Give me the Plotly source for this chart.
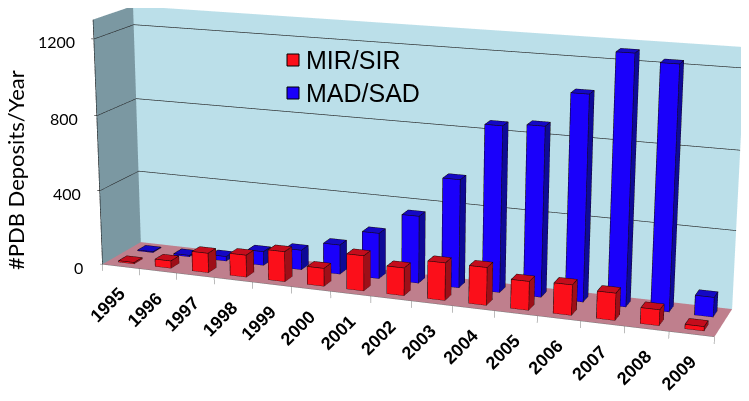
import numpy as np
import plotly.graph_objects as go

years = list(range(1995, 2010))
mir_sir = [8, 40, 105, 118, 160, 95, 185, 145, 195, 195, 148, 155, 138, 80, 22]
mad_sad = [5, 8, 25, 75, 106, 157, 242, 354, 565, 858, 874, 1050, 1265, 1228, 100]
z_ticks = [0, 400, 800, 1200]
z_top = 1300

# size of the chart box and camera, same unit (camera distance = 1)
box_x, box_y, box_z = 0.3145, 0.0424, 0.1265
view_dir = np.array([-0.341, 0.8998, -0.2645])
cam_right = np.array([0.9356, 0.3516, -0.0047])
cam_down = np.array([0.0927, -0.2584, -0.964])
center = np.array([0.1271, 0.0576, 0.0317])
half = np.array([0.25, 0.08, 0.15])
K = 19.52
cam_dist = 2.0
# the page body has an 8px margin, so the scene centre lands off the window centre
nudge = cam_right * (-7.5 / 1950) + cam_down * (-8.5 / 1950)

bar_w = 0.42

RED = ("#fb0f1a", "#c40d1c", "#9e0f18")
BLUE = ("#1a00fb", "#1408c4", "#0e0a96")


# plotly has a fixed fov, so the long lens of the original is put on the data
def persp(x, y, z):
    q = np.array([x, y, z], dtype=float).T - center
    w = 1 + q @ view_dir
    return (q.T / w) + nudge[:, None]


def sx(i):
    return np.asarray(i, dtype=float) * box_x / len(years)


def sy(v):
    return np.asarray(v, dtype=float) * box_y / 2


def sz(val):
    return np.asarray(val, dtype=float) * box_z / z_top


def bar_mesh(values, row, colors, name):
    xs, ys, zs, ii, jj, kk, fc = [], [], [], [], [], [], []
    for n, val in enumerate(values):
        x0, x1 = sx(n + 0.5 - bar_w / 2), sx(n + 0.5 + bar_w / 2)
        y0, y1 = sy(row + 0.5 - bar_w / 2), sy(row + 0.5 + bar_w / 2)
        top = sz(val)
        base = len(xs)
        xs += [x0, x1, x1, x0, x0, x1, x1, x0]
        ys += [y0, y0, y1, y1, y0, y0, y1, y1]
        zs += [0, 0, 0, 0, top, top, top, top]
        faces = [(0, 1, 5, 0), (0, 5, 4, 0), (4, 5, 6, 1), (4, 6, 7, 1),
                 (1, 2, 6, 2), (1, 6, 5, 2), (0, 3, 7, 2), (0, 7, 4, 2),
                 (3, 2, 6, 0), (3, 6, 7, 0)]
        for a, b, c, col in faces:
            ii.append(base + a)
            jj.append(base + b)
            kk.append(base + c)
            fc.append(colors[col])
    px, py, pz = persp(xs, ys, zs)
    return go.Mesh3d(x=px, y=py, z=pz, i=ii, j=jj, k=kk, facecolor=fc, flatshading=True,
                     lighting=dict(ambient=1, diffuse=0, specular=0, fresnel=0),
                     hoverinfo="skip", showlegend=False, name=name)


def bar_edges(values, row):
    e = 0.00006
    xs, ys, zs = [], [], []
    for n, val in enumerate(values):
        x0, x1 = sx(n + 0.5 - bar_w / 2) - e, sx(n + 0.5 + bar_w / 2) + e
        y0, y1 = sy(row + 0.5 - bar_w / 2) - e, sy(row + 0.5 + bar_w / 2) + e
        top = sz(val) + e
        path = [(x0, y0, 0), (x1, y0, 0), (x1, y1, 0), (x1, y1, top), (x0, y1, top), (x0, y0, top),
                (x0, y0, 0), (None, None, None), (x1, y0, 0), (x1, y0, top), (x1, y1, top), (None, None, None),
                (x0, y0, top), (x1, y0, top), (None, None, None)]
        for p in path:
            xs.append(p[0])
            ys.append(p[1])
            zs.append(p[2])
    return segs(xs, ys, zs, "#140808", 1.2)


def segs(xs, ys, zs, color, width):
    # break the polyline where None was given, persp only gets the real points
    pts = np.array([[np.nan if v is None else v for v in c] for c in (xs, ys, zs)], dtype=float)
    px, py, pz = persp(pts[0], pts[1], pts[2])
    return go.Scatter3d(x=px, y=py, z=pz, mode="lines", line=dict(color=color, width=width),
                        hoverinfo="skip", showlegend=False)


def wall(corners, color):
    c = np.array(corners, dtype=float).T
    px, py, pz = persp(c[0], c[1], c[2])
    return go.Mesh3d(x=px, y=py, z=pz, i=[0, 0], j=[1, 2], k=[2, 3], color=color, flatshading=True,
                     lighting=dict(ambient=1, diffuse=0, specular=0, fresnel=0),
                     hoverinfo="skip", showlegend=False)


fig = go.Figure()

# walls and floor
fig.add_trace(wall([(0, box_y, 0), (box_x, box_y, 0), (box_x, box_y, box_z), (0, box_y, box_z)], "#bbdfe9"))
fig.add_trace(wall([(0, 0, 0), (0, box_y, 0), (0, box_y, box_z), (0, 0, box_z)], "#7b98a2"))
fig.add_trace(wall([(0, 0, 0), (box_x, 0, 0), (box_x, box_y, 0), (0, box_y, 0)], "#bf7f8d"))

# gridlines
gx, gy, gz = [], [], []
for t in z_ticks[1:]:
    gx += [-0.0014, 0.00005, 0.00005, box_x, None]
    gy += [0, 0, box_y - 0.00005, box_y - 0.00005, None]
    gz += [sz(t), sz(t), sz(t), sz(t), None]
fig.add_trace(segs(gx, gy, gz, "#222222", 1.3))
fig.add_trace(segs([0.00002, 0.00002], [-0.00002, -0.00002], [0, box_z], "#111111", 1.3))

# tick marks under the floor
tx, ty, tz = [], [], []
for n in range(len(years) + 1):
    tx += [sx(n), sx(n), None]
    ty += [0, 0, None]
    tz += [0, -0.0035, None]
tx += [0, box_x, None]
ty += [-0.00003, -0.00003, None]
tz += [0, 0, None]
tx += [-0.0014, 0, None]
ty += [0, 0, None]
tz += [0, 0, None]
fig.add_trace(segs(tx, ty, tz, "#777777", 1))

fig.add_trace(bar_mesh(mad_sad, 1, BLUE, "MAD/SAD"))
fig.add_trace(bar_mesh(mir_sir, 0, RED, "MIR/SIR"))
fig.add_trace(bar_edges(mad_sad, 1))
fig.add_trace(bar_edges(mir_sir, 0))

notes = []
for n, yr in enumerate(years):
    ax, ay, az = persp([sx(n + 0.5)], [0.0], [0.0])
    notes.append(dict(x=ax[0], y=ay[0], z=az[0], text="<b>%d</b>" % yr, showarrow=False, textangle=-45,
                      xshift=-13, yshift=-39,
                      font=dict(family="Liberation Sans", size=18, color="black")))
for t in z_ticks:
    ax, ay, az = persp([0.0], [0.0], [float(sz(t))])
    notes.append(dict(x=ax[0], y=ay[0], z=az[0], text=str(t), showarrow=False, xanchor="right",
                      xshift=-17, yshift=-3,
                      font=dict(family="Lato", size=16, color="black")))

# legend sits tighter than plotly's own one can, so it is drawn by hand
W, H = 749, 401
page_notes = [dict(x=8 / W, y=1 - 162 / H, xref="paper", yref="paper", showarrow=False,
                   xanchor="center", yanchor="middle",
                   text="#PDB Deposits/Year", textangle=-90,
                   font=dict(family="Lato", size=22, color="black"))]
key_shapes = []
for name, col, ky in [("MIR/SIR", RED[0], 52), ("MAD/SAD", BLUE[0], 85)]:
    key_shapes.append(dict(type="rect", xref="paper", yref="paper",
                           x0=279 / W, x1=291 / W, y0=1 - (ky + 6) / H, y1=1 - (ky - 6) / H,
                           fillcolor=col, line=dict(color="black", width=1)))
    page_notes.append(dict(x=296 / W, y=1 - ky / H, xref="paper", yref="paper", showarrow=False,
                           xanchor="left", yanchor="middle", text=name,
                           font=dict(family="Liberation Sans", size=25, color="black")))

axis = dict(visible=False, showgrid=False, zeroline=False, showbackground=False,
            showspikes=False)
fig.update_layout(
    width=W, height=H,
    margin=dict(l=0, r=0, t=0, b=0),
    paper_bgcolor="white",
    showlegend=False,
    annotations=page_notes,
    shapes=key_shapes,
    scene=dict(
        domain=dict(x=[0, 1], y=[0, 1]),
        xaxis=dict(range=[-half[0], half[0]], **axis),
        yaxis=dict(range=[-half[1], half[1]], **axis),
        zaxis=dict(range=[-half[2], half[2]], **axis),
        aspectmode="manual",
        aspectratio=dict(x=half[0] * K, y=half[1] * K, z=half[2] * K),
        camera=dict(eye=dict(x=-view_dir[0] * cam_dist, y=-view_dir[1] * cam_dist, z=-view_dir[2] * cam_dist),
                    center=dict(x=0, y=0, z=0), up=dict(x=0, y=0, z=1),
                    projection=dict(type="orthographic")),
        annotations=notes,
    ),
)

fig.write_html("out.html")
